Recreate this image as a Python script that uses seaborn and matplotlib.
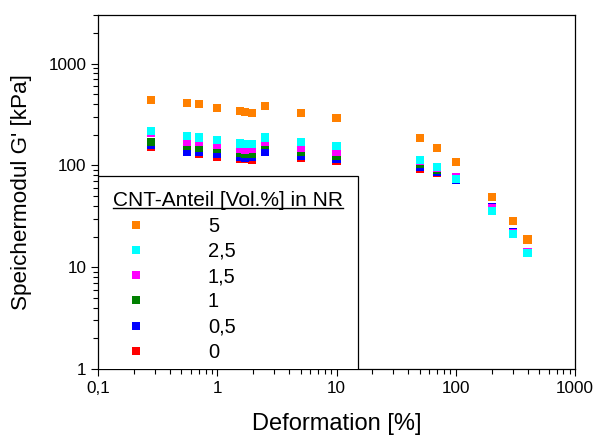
import numpy as np
import pandas as pd
import matplotlib
matplotlib.use('Agg')
import matplotlib.pyplot as plt
import seaborn as sns
from matplotlib.lines import Line2D
from matplotlib.ticker import FixedLocator, LogLocator, NullFormatter

# strain amplitude [%]
strain = [0.28, 0.56, 0.7, 1.0, 1.56, 1.7, 1.95, 2.5, 5, 10, 50, 70, 100, 200, 300, 400]

# storage modulus G' [kPa] per CNT content
g_0 = [150, 134, 129, 121, 116, 115, 113, 134, 119, 111, 93, 84, 73, 38, 21.5, 14]
g_05 = [157, 137, 134, 129, 120, 118, 120, 137, 123, 115, 95.5, 86, 72, 39, 22, 14]
g_1 = [169, 154, 148, 144, 132, 130, 130, 157, 137, 125, 103, 91, 74, 38, 21.5, 14]
g_15 = [206, 168, 168, 159, 144, 142, 144, 169, 148, 134, 110, 94, 76, 38.5, 21.8, 14.1]
g_25 = [217, 194, 188, 177, 164, 163, 163, 188, 169, 154, 114, 96, 73, 35.5, 21, 13.8]
g_5 = [440, 408, 403, 364, 340, 336, 326, 385, 329, 291, 185, 148, 109, 49, 28.5, 18.7]

labels = ['0', '0,5', '1', '1,5', '2,5', '5']
colors = ['#ff0000', '#0000ff', '#008000', '#ff00ff', '#00ffff', '#ff8000']
series = [g_0, g_05, g_1, g_15, g_25, g_5]

xticks = [0.1, 1, 10, 100, 1000]
xticklabels = ['0,1', '1', '10', '100', '1000']
yticks = [1, 10, 100, 1000]
yticklabels = ['1', '10', '100', '1000']

df = pd.concat([pd.DataFrame({'strain': strain, 'G': g, 'cnt': lab})
                for g, lab in zip(series, labels)], ignore_index=True)

plt.rcParams['font.family'] = ['Liberation Sans', 'DejaVu Sans']

fig = plt.figure(figsize=(5.98, 4.36), dpi=100)
ax = fig.add_axes([0.164, 0.1537, 0.7975, 0.8119])

sns.scatterplot(data=df, x='strain', y='G', hue='cnt', hue_order=labels,
                palette=colors, marker='s', s=34, linewidth=0, legend=False, ax=ax)

ax.set_xscale('log')
ax.set_yscale('log')
ax.set_xlim(0.1, 1000)
ax.set_ylim(1, 3000)

ax.xaxis.set_major_locator(FixedLocator(xticks))
ax.set_xticklabels(xticklabels)
ax.yaxis.set_major_locator(FixedLocator(yticks))
ax.set_yticklabels(yticklabels)
ax.xaxis.set_minor_locator(LogLocator(base=10, subs=np.arange(2, 10)))
ax.yaxis.set_minor_locator(LogLocator(base=10, subs=np.arange(2, 10)))
ax.xaxis.set_minor_formatter(NullFormatter())
ax.yaxis.set_minor_formatter(NullFormatter())

ax.tick_params(which='major', direction='out', length=5, width=0.8, labelsize=12.3, pad=3.5)
ax.tick_params(which='minor', direction='out', length=3.5, width=0.8)
for sp in ax.spines.values():
    sp.set_linewidth(0.9)
    sp.set_color('black')

ax.set_xlabel('Deformation [%]', fontsize=17, labelpad=12.5)
ax.set_ylabel("Speichermodul G' [kPa]", fontsize=16.2, labelpad=12)

handles = [Line2D([], [], ls='none', marker='s', color=c, markersize=6, markeredgewidth=0)
           for c in colors][::-1]
# legend sits a bit below the axes; its frame is clipped at the x axis
leg = ax.legend(handles, labels[::-1], title='CNT-Anteil [Vol.%] in NR',
                loc='lower left', bbox_to_anchor=(0, -0.0226), borderaxespad=0,
                frameon=True, fancybox=False, edgecolor='black', framealpha=1,
                fontsize=14.5, title_fontsize=15, borderpad=0.75,
                handlelength=2.25, handletextpad=2.45, labelspacing=0.31,
                alignment='left')
leg.get_frame().set_linewidth(0.9)
leg.get_frame().set_clip_box(ax.bbox)
leg.get_frame().set_clip_on(True)

# underline the legend title
fig.canvas.draw()
bb = leg.get_title().get_window_extent().transformed(fig.transFigure.inverted())
fig.add_artist(Line2D([bb.x0, bb.x1], [bb.y0 + 0.006, bb.y0 + 0.006],
                      transform=fig.transFigure, color='black', lw=1))

plt.savefig('out.png', dpi=100)
